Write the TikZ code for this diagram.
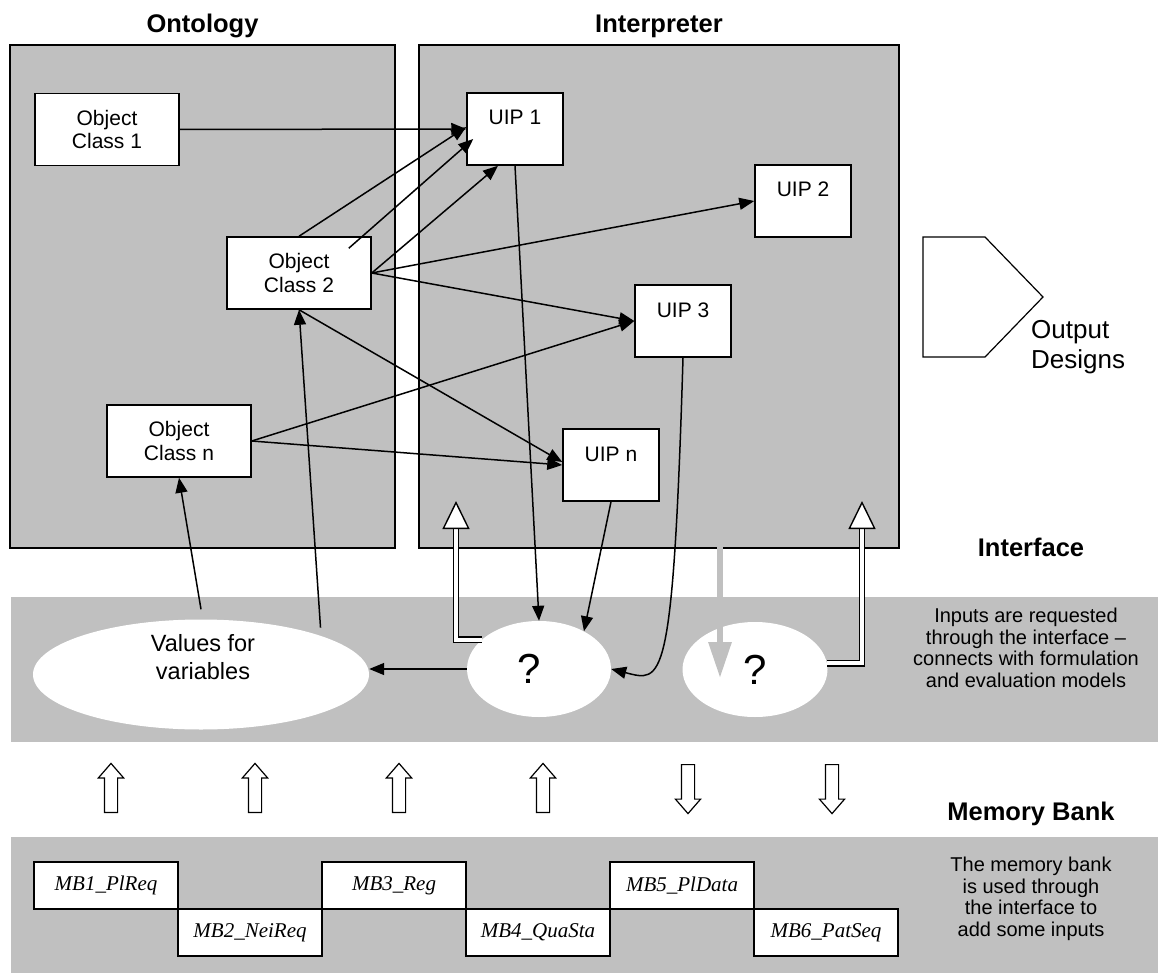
\documentclass[tikz,border=0pt]{standalone}
\usepackage{fontspec}
\setmainfont{Liberation Sans}
\newfontfamily\mbfont{Liberation Serif}
\usepackage{xcolor}
\usepackage{tikz}
\usetikzlibrary{positioning,shapes.geometric,shapes.arrows,arrows.meta}
\definecolor{panelgrey}{HTML}{C0C0C0}

\begin{document}
\begin{tikzpicture}[x=1pt, y=-1pt, >={Triangle[length=15pt,width=12pt]},
  bigbox/.style={draw, line width=2.5pt, fill=panelgrey},
  title/.style={inner sep=0pt, font=\bfseries\fontsize{25.5}{28}\selectfont},
  classbox/.style={draw, line width=1.5pt, fill=white, align=center, minimum width=144pt, minimum height=72pt, font=\fontsize{21}{23.5}\selectfont},
  uipbox/.style={draw, line width=1.5pt, fill=white, minimum width=96pt, minimum height=72pt, text height=15pt, text depth=23pt, font=\fontsize{21}{23.5}\selectfont},
  blob/.style={ellipse, fill=white, inner sep=0pt},
  qmark/.style={font=\fontsize{42}{42}\selectfont},
  note/.style={align=center, font=\fontsize{20}{21.5}\selectfont},
  mbbox/.style={draw, line width=1.5pt, fill=white, minimum width=144pt, minimum height=47pt, outer sep=0pt, font=\mbfont\itshape\fontsize{21}{24}\selectfont},
  link/.style={->, line width=1.5pt},
  wide/.style={double, double distance=4pt, line width=1.4pt, -{Triangle[open, fill=white, length=28pt, width=27pt, line width=1.4pt]}},
  hollow/.style={single arrow, draw, fill=white, line width=1.2pt, inner sep=6pt, minimum height=49pt, single arrow head extend=6pt, single arrow tip angle=82}]
\useasboundingbox (0,0) rectangle (1158,976);
% panels
\node[bigbox, minimum width=385pt, minimum height=503pt] (onto) at (202.5,296.5) {};
\node[bigbox, minimum width=480pt, minimum height=503pt] (interp) at (659,296.5) {};
\node[title, above=5.5pt of onto] (ontotitle) {Ontology};
\node[title, above=5.5pt of interp] (interptitle) {Interpreter};
\fill[panelgrey] (11,597) rectangle (1158,742);
\fill[panelgrey] (11,837) rectangle (1158,973);
\node[title] (ifacetitle) at (1031,547) {Interface};
\node[title] (memtitle) at (1031,813.5) {Memory Bank};
\node[note] (ifacenote) at (1026,648) {Inputs are requested\\through the interface –\\connects with formulation\\and evaluation models};
\node[note] (memnote) at (1031,899) {The memory bank\\is used through\\the interface to\\add some inputs};
% classes and UIPs
\node[classbox] (oc1) at (107,129.5) {Object\\Class 1};
\node[classbox] (oc2) at (299,273) {Object\\Class 2};
\node[classbox] (ocn) at (179,441) {Object\\Class n};
\node[uipbox] (uip1) at (515,129) {UIP 1};
\node[uipbox] (uip2) at (803,201) {UIP 2};
\node[uipbox] (uip3) at (683,321) {UIP 3};
\node[uipbox] (uipn) at (611,465) {UIP n};
% output
\draw[line width=1.2pt, fill=white] (923,237) -- (985,237) -- (1043,297) -- (985,357) -- (923,357) -- cycle;
\node[anchor=north west, align=left, inner sep=0pt, font=\fontsize{26}{30.5}\selectfont] (outtxt) at (1031,320) {Output\\Designs};
% interface
\node[blob, minimum width=336pt, minimum height=110pt] (vals) at (201,674.5) {};
\node[align=center, font=\fontsize{23.5}{28}\selectfont] (valstxt) at (203,657) {Values for\\variables};
\node[blob, minimum width=144pt, minimum height=96pt, label={[qmark, xshift=-10pt]center:?}] (q1) at (539,669) {};
\node[blob, minimum width=145pt, minimum height=95pt, qmark] (q2) at (755,669.5) {?};
\coordinate (tipl) at (456,501);
\coordinate (tipr) at (862,501);
\coordinate (qin) at (720,678);
\draw[wide] (q1.153) -| (tipl);
\draw[wide] (q2.5) -| (tipr);
\draw[line width=6pt, panelgrey, -{Triangle[length=36pt,width=22pt]}, shorten <=-3pt] (interp.south -| qin) -- (qin);
% links
\draw[link] (oc1.east) -- (uip1.west);
\draw[link] (oc2.north) -- ([yshift=2pt]uip1.west);
\draw[link] ([xshift=-23pt,yshift=-12pt]oc2.north east) -- ([xshift=7pt,yshift=-10pt]uip1.west);
\draw[link] (oc2.east) -- ([xshift=-17pt]uip1.south);
\draw[link] (oc2.east) -- (uip2.west);
\draw[link] (oc2.east) -- (uip3.west);
\draw[link] (oc2.south) -- ([yshift=3pt]uipn.west);
\draw[link] (ocn.east) -- (uip3.west);
\draw[link] (ocn.east) -- (uipn.west);
\draw[link] (uip1.south) -- (q1.north);
\draw[link] (uipn.south) -- (q1.40);
\draw[link] (uip3.south) .. controls +(-10,333) and +(51,13) .. (q1.east);
\draw[link] (q1.west) -- (q1.west -| vals.east);
\draw[link] ([yshift=10pt]vals.north) -- (ocn.south);
\draw[link] ([yshift=8pt]vals.18) -- (oc2.south);
% between the bands
\node[hollow, rotate=90, anchor=tail] (up1) at (111,813) {};
\node[hollow, rotate=90, anchor=tail] (up2) at (255,813) {};
\node[hollow, rotate=90, anchor=tail] (up3) at (399,813) {};
\node[hollow, rotate=90, anchor=tail] (up4) at (543,813) {};
\node[hollow, rotate=-90, anchor=tail] (down1) at (688,764) {};
\node[hollow, rotate=-90, anchor=tail] (down2) at (832,764) {};
% memory bank
\node[mbbox] (mb1) at (106,885.5) {MB1\_PlReq};
\node[mbbox, anchor=north west] (mb2) at (mb1.south east) {MB2\_NeiReq};
\node[mbbox, anchor=south west] (mb3) at (mb2.north east) {MB3\_Reg};
\node[mbbox, anchor=north west] (mb4) at (mb3.south east) {MB4\_QuaSta};
\node[mbbox, anchor=south west] (mb5) at (mb4.north east) {MB5\_PlData};
\node[mbbox, anchor=north west] (mb6) at (mb5.south east) {MB6\_PatSeq};
\end{tikzpicture}
\end{document}
